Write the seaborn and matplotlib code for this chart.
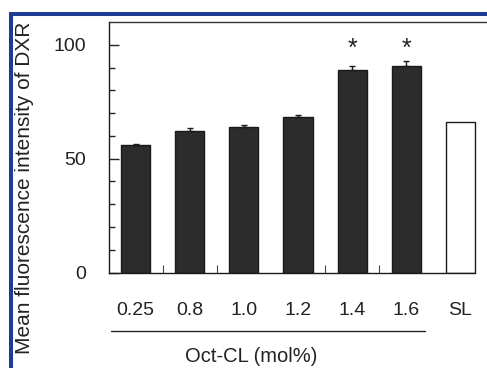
import numpy as np
import pandas as pd
import matplotlib
matplotlib.use("Agg")
import matplotlib.pyplot as plt
import seaborn as sns
from matplotlib.lines import Line2D
from matplotlib.transforms import blended_transform_factory

# ---- data ----
categories = ["0.25", "0.8", "1.0", "1.2", "1.4", "1.6", "SL"]
means = [55.9, 62.0, 64.1, 68.5, 88.9, 90.8, 66.0]
errors = [0.7, 1.5, 0.7, 0.7, 1.9, 1.9, 0.0]
significant = [False, False, False, False, True, True, False]
y_ticks = [0, 50, 100]
y_minor_ticks = [10, 20, 30, 40, 60, 70, 80, 90]

sns.set_style("ticks")
plt.rcParams['font.family'] = ['Liberation Sans', 'DejaVu Sans']

fig = plt.figure(figsize=(4.87, 3.68), dpi=100)
ax = fig.add_axes([0.2228, 0.2595, 0.7772, 0.6807])

df = pd.DataFrame({"conc": categories, "mfi": means})
palette = {c: ("white" if c == "SL" else "#2c2c2c") for c in categories}
sns.barplot(data=df, x="conc", y="mfi", hue="conc", order=categories,
            hue_order=categories, palette=palette, width=0.54,
            edgecolor="#1a1a1a", linewidth=1.0, legend=False,
            errorbar=None, ax=ax)

xpos = np.arange(len(categories))
has_err = np.array(errors) > 0
ax.errorbar(xpos[has_err], np.array(means)[has_err],
            yerr=[np.zeros(has_err.sum()), np.array(errors)[has_err]],
            fmt='none', ecolor='#1a1a1a', elinewidth=1.0, capsize=2.5,
            capthick=1.0, zorder=3)

for i, sig in enumerate(significant):
    if sig:
        ax.text(i, 98, "*", ha='center', va='center', fontsize=18,
                color='#222222')

ax.set_xlim(-0.5, 6.49)
ax.set_ylim(0, 110)
ax.set_yticks(y_ticks)
ax.set_yticks(y_minor_ticks, minor=True)
ax.set_xticks(xpos)
ax.set_xticklabels(categories)
ax.set_xticks([0.5, 1.5, 3.5, 4.5], minor=True)

ax.tick_params(axis='y', which='major', direction='in', length=7, width=1,
               pad=16, labelsize=14, color='#222222', labelcolor='#222222')
ax.tick_params(axis='y', which='minor', direction='in', length=4, width=1,
               color='#222222')
ax.tick_params(axis='x', which='major', length=0, pad=21, labelsize=14,
               labelcolor='#222222')
ax.tick_params(axis='x', which='minor', direction='in', length=6, width=0.8,
               color='#444444')

for s in ['left', 'bottom']:
    ax.spines[s].set_color('#1a1a1a')
    ax.spines[s].set_linewidth(1.0)
ax.spines['top'].set_color('#333333')
ax.spines['top'].set_linewidth(1.0)
ax.spines['right'].set_visible(False)
ax.spines['bottom'].set_bounds(-0.5, 6.27)

ax.set_ylabel("Mean fluorescence intensity of DXR", fontsize=15,
              color='#222222')
ax.yaxis.set_label_coords(-0.223, 0.339)
ax.yaxis.label.set_va('center')
ax.set_xlabel("Oct-CL (mol%)", fontsize=14.5, color='#222222')
ax.xaxis.set_label_coords(0.378, -0.337)
ax.xaxis.label.set_va('center')

# underline grouping the Oct-CL concentrations
trans = blended_transform_factory(ax.transData, ax.transAxes)
ax.add_line(Line2D([-0.45, 5.35], [-0.2335, -0.2335], transform=trans,
                   color='#222222', lw=1.0, clip_on=False))

# blue page frame of the scanned figure
blue = '#1f3b95'
fig.add_artist(Line2D([0.0232, 0.0232], [0.0, 0.9606],
                      transform=fig.transFigure, color=blue, lw=2.9,
                      solid_capstyle='butt'))
fig.add_artist(Line2D([0.0191, 1.0], [0.9606, 0.9606],
                      transform=fig.transFigure, color=blue, lw=2.9,
                      solid_capstyle='butt'))

fig.savefig("out.png", dpi=100)
